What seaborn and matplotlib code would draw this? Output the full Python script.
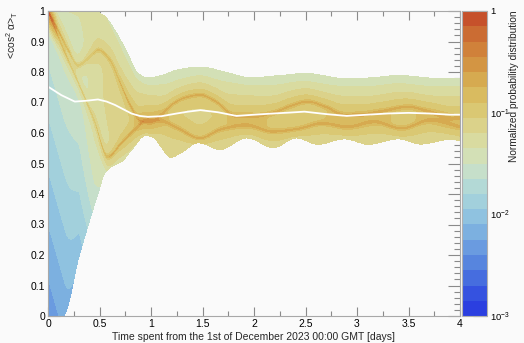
import numpy as np
import pandas as pd
import matplotlib
matplotlib.use("Agg")
import matplotlib.pyplot as plt
from matplotlib.colors import ListedColormap, LogNorm
from matplotlib.cm import ScalarMappable
from matplotlib.ticker import MultipleLocator, FuncFormatter, FixedLocator, LogLocator, NullFormatter
import seaborn as sns

# ---------------- data ----------------
# upper envelope of the distribution
HI_T = [0.0, 0.45, 0.55, 0.65, 0.78, 0.87, 0.97, 1.1, 1.25, 1.48, 1.74, 1.96, 2.25, 2.5, 2.91, 3.15, 3.4, 3.85, 4.0]
HI_Y = [1.0, 1.0, 0.985, 0.94, 0.86, 0.80, 0.782, 0.79, 0.808, 0.818, 0.80, 0.783, 0.79, 0.797, 0.779, 0.783, 0.79, 0.779, 0.781]
# lower envelope
LO_T = [0.0, 0.15, 0.31, 0.49, 0.56, 0.64, 0.72, 0.82, 0.95, 1.02, 1.1, 1.19, 1.3, 1.46, 1.67, 1.93, 2.19, 2.41, 2.62, 2.88, 3.11, 3.40, 3.62, 3.92, 4.0]
LO_Y = [0.0, 0.0, 0.2, 0.4, 0.47, 0.492, 0.505, 0.545, 0.59, 0.584, 0.55, 0.518, 0.535, 0.566, 0.544, 0.582, 0.55, 0.582, 0.561, 0.579, 0.561, 0.579, 0.562, 0.578, 0.572]
# upper caustic ridge
A_T = [0.0, 0.1, 0.2, 0.29, 0.4, 0.49, 0.6, 0.7, 0.8, 0.9, 1.0, 1.1, 1.22, 1.35, 1.48, 1.62, 1.83, 2.0, 2.2, 2.35, 2.52, 2.7, 2.88, 3.05, 3.25, 3.5, 3.7, 3.92, 4.0]
A_Y = [1.0, 0.935, 0.87, 0.822, 0.848, 0.872, 0.84, 0.765, 0.69, 0.64, 0.635, 0.66, 0.697, 0.718, 0.725, 0.705, 0.655, 0.655, 0.668, 0.688, 0.703, 0.685, 0.659, 0.66, 0.672, 0.686, 0.67, 0.648, 0.65]
# lower caustic ridge
B_T = [0.0, 0.15, 0.3, 0.45, 0.58, 0.71, 0.84, 0.97, 1.1, 1.25, 1.476, 1.68, 1.92, 2.18, 2.43, 2.66, 2.91, 3.17, 3.43, 3.72, 4.0]
B_Y = [1.0, 0.875, 0.76, 0.64, 0.522, 0.566, 0.61, 0.645, 0.64, 0.618, 0.583, 0.612, 0.626, 0.605, 0.614, 0.632, 0.62, 0.637, 0.615, 0.643, 0.62]
# ridge peak heights (normalized probability)
AMP_T = [0.0, 0.1, 0.25, 0.45, 0.6, 0.85, 0.95, 1.2, 4.0]
AMP_A = [0.35, 0.1, 0.05, 0.05, 0.06, 0.1, 0.1, 0.085, 0.085]
AMP_B = [0.35, 0.08, 0.045, 0.05, 0.09, 0.1, 0.1, 0.085, 0.085]
# background level of the distribution (log10 at lower edge, slope, curvature)
BODY_T = [0.0, 0.15, 0.3, 0.45, 0.6, 0.8, 1.0, 4.0]
BODY_L = [-2.35, -2.2, -2.05, -1.6, -1.35, -1.25, -1.2, -1.2]
BODY_S = [0.85, 0.85, 0.8, 0.5, 0.25, 0.1, 0.0, 0.0]
BODY_C = [0.0, 0.0, 0.3, 0.6, 0.9, 1.0, 1.0, 1.0]
# mean value (white line)
MEAN_T = [0.0, 0.13, 0.26, 0.38, 0.485, 0.57, 0.65, 0.73, 0.81, 0.89, 0.97, 1.1, 1.25, 1.36, 1.48, 1.65,
          1.83, 2.0, 2.19, 2.35, 2.49, 2.7, 2.9, 3.1, 3.3, 3.5, 3.7, 3.9, 4.0]
MEAN_Y = [0.752, 0.724, 0.703, 0.706, 0.71, 0.703, 0.692, 0.678, 0.664, 0.656, 0.653, 0.655, 0.664, 0.67, 0.675, 0.668,
          0.656, 0.66, 0.664, 0.667, 0.67, 0.662, 0.656, 0.66, 0.664, 0.666, 0.664, 0.66, 0.66]

X_TICKS = [0, 0.5, 1, 1.5, 2, 2.5, 3, 3.5, 4]
Y_TICKS = [0, 0.1, 0.2, 0.3, 0.4, 0.5, 0.6, 0.7, 0.8, 0.9, 1]
CB_TICKS = [1e-3, 1e-2, 1e-1, 1]
CB_LABELS = [r"$10^{-3}$", r"$10^{-2}$", r"$10^{-1}$", "1"]

PALETTE = ["#2b3fe0", "#3552e0", "#466ddf", "#5785de", "#6a9be0", "#7cb0e0", "#8fc2e0", "#a2d0dc",
           "#b3d9d6", "#c6dfca", "#d3e0b6", "#d9dba0", "#dbd28a", "#dac873", "#d9bb60", "#d6aa50",
           "#d39543", "#d0813a", "#cb6c33", "#c6512b"]
BG = "#fafafa"


def pchip(xk, yk, x):
    xk = np.asarray(xk, float)
    yk = np.asarray(yk, float)
    x = np.asarray(x, float)
    h = np.diff(xk)
    delta = np.diff(yk) / h
    n = len(xk)
    m = np.zeros(n)
    m[0], m[-1] = delta[0], delta[-1]
    for i in range(1, n - 1):
        if delta[i - 1] * delta[i] <= 0:
            m[i] = 0.0
        else:
            w1 = 2 * h[i] + h[i - 1]
            w2 = h[i] + 2 * h[i - 1]
            m[i] = (w1 + w2) / (w1 / delta[i - 1] + w2 / delta[i])
    idx = np.clip(np.searchsorted(xk, x) - 1, 0, n - 2)
    s = (x - xk[idx]) / h[idx]
    h00 = 2 * s**3 - 3 * s**2 + 1
    h10 = s**3 - 2 * s**2 + s
    h01 = -2 * s**3 + 3 * s**2
    h11 = s**3 - s**2
    return h00 * yk[idx] + h10 * h[idx] * m[idx] + h01 * yk[idx + 1] + h11 * h[idx] * m[idx + 1]


# ---------------- build the 2D table ----------------
t_edges = np.linspace(0, 4, 413)
y_edges = np.linspace(0, 1, 306)
tc = 0.5 * (t_edges[1:] + t_edges[:-1])
yc = 0.5 * (y_edges[1:] + y_edges[:-1])
T, Y = np.meshgrid(tc, yc, indexing="ij")

lo = pchip(LO_T, LO_Y, tc)[:, None]
hi = pchip(HI_T, HI_Y, tc)[:, None]
d = np.clip((Y - lo) / np.maximum(hi - lo, 1e-6), 0, 1)
L = np.interp(tc, BODY_T, BODY_L)[:, None]
S = np.interp(tc, BODY_T, BODY_S)[:, None]
C = np.interp(tc, BODY_T, BODY_C)[:, None]
body = 10 ** (L + S * d - C * ((d - 0.35) ** 2 - 0.1225))

ra = pchip(A_T, A_Y, tc)[:, None]
rb = pchip(B_T, B_Y, tc)[:, None]
aa = np.interp(tc, AMP_T, AMP_A)[:, None]
ab = np.interp(tc, AMP_T, AMP_B)[:, None]


def ridge(center, amp):
    return amp * (np.exp(-0.5 * ((Y - center) / 0.0045) ** 2) + 0.45 * np.exp(-0.5 * ((Y - center) / 0.025) ** 2))


dens = body + ridge(ra, aa) + ridge(rb, ab)
inside = (Y >= lo) & (Y <= hi)
dens = np.where(inside, dens, 0.0)

df = pd.DataFrame({"t": T.ravel(), "y": Y.ravel(), "p": dens.ravel()})
df = df[df["p"] > 0]

# ---------------- plotting ----------------
sns.set_style("ticks")
plt.rcParams["font.family"] = ["Liberation Sans", "DejaVu Sans"]
plt.rcParams["mathtext.fontset"] = "custom"
plt.rcParams["mathtext.rm"] = "Liberation Sans"
plt.rcParams["mathtext.it"] = "Liberation Sans:italic"
plt.rcParams["mathtext.bf"] = "Liberation Sans:bold"

cmap = ListedColormap(PALETTE)
cmap.set_under(PALETTE[0])
cmap.set_over(PALETTE[-1])

fig = plt.figure(figsize=(5.24, 3.43), dpi=100, facecolor=BG)
ax = fig.add_axes([48 / 524, 27 / 343, 412 / 524, 305 / 343])
cax = fig.add_axes([462 / 524, 27 / 343, 25 / 524, 305 / 343])
ax.set_facecolor(BG)

sns.histplot(data=df, x="t", y="y", weights="p", bins=(t_edges, y_edges), cmap=cmap, ax=ax, cbar=False)
mesh = ax.collections[-1]
mesh.set_norm(LogNorm(vmin=1e-3, vmax=1, clip=True))
mesh.set_cmap(cmap)
mesh.set_antialiased(False)

sns.lineplot(x=MEAN_T, y=MEAN_Y, color="white", lw=1.3, ax=ax, estimator=None, sort=False)

ax.set_xlim(0, 4)
ax.set_ylim(0, 1)
fmt = FuncFormatter(lambda v, p: "%g" % round(v, 3))
ax.xaxis.set_major_locator(FixedLocator(X_TICKS))
ax.xaxis.set_minor_locator(MultipleLocator(0.25))
ax.yaxis.set_major_locator(FixedLocator(Y_TICKS))
ax.yaxis.set_minor_locator(MultipleLocator(0.02))
ax.xaxis.set_major_formatter(fmt)
ax.yaxis.set_major_formatter(fmt)
tick_col = "#8a8a8a"
ax.tick_params(which="both", direction="in", top=True, right=True, color=tick_col,
               labelsize=7.5, labelcolor="black", width=0.8)
ax.tick_params(axis="x", which="major", length=6.5, pad=2)
ax.tick_params(axis="x", which="minor", length=3.3)
ax.tick_params(axis="y", which="major", length=8.9, pad=2)
ax.tick_params(axis="y", which="minor", length=4.5)
for sp in ax.spines.values():
    sp.set_color("#a8a8a8")
    sp.set_linewidth(0.8)
ax.grid(False)

ax.set_xlabel("Time spent from the 1st of December 2023 00:00 GMT [days]", fontsize=7.5, labelpad=2)
ax.set_ylabel("<cos$^{2}$ α>$_{\\mathrm{T}}$", fontsize=7.5, loc="top")
ax.yaxis.set_label_coords(-0.068, 1.0)

sm = ScalarMappable(norm=LogNorm(vmin=1e-3, vmax=1), cmap=cmap)
cbar = fig.colorbar(sm, cax=cax)
cbar.outline.set_edgecolor("#b0b0b0")
cbar.outline.set_linewidth(0.8)
cax.yaxis.set_major_locator(FixedLocator(CB_TICKS))
cax.yaxis.set_major_formatter(FuncFormatter(lambda v, p: CB_LABELS[CB_TICKS.index(min(CB_TICKS, key=lambda c: abs(np.log10(c) - np.log10(v))))]))
cax.yaxis.set_minor_locator(LogLocator(base=10, subs=np.arange(2, 10)))
cax.yaxis.set_minor_formatter(NullFormatter())
cax.tick_params(which="both", direction="in", right=True, left=False, color="#606060",
                labelsize=6.8, labelcolor="black", width=0.8, pad=2.5)
cax.tick_params(which="major", length=10)
cax.tick_params(which="minor", length=5.5)

fig.text(519 / 524, 1 - 10 / 343, "Normalized probability distribution", rotation=90,
         ha="right", va="top", fontsize=7.3)

fig.savefig("out.png", dpi=100, facecolor=BG)
